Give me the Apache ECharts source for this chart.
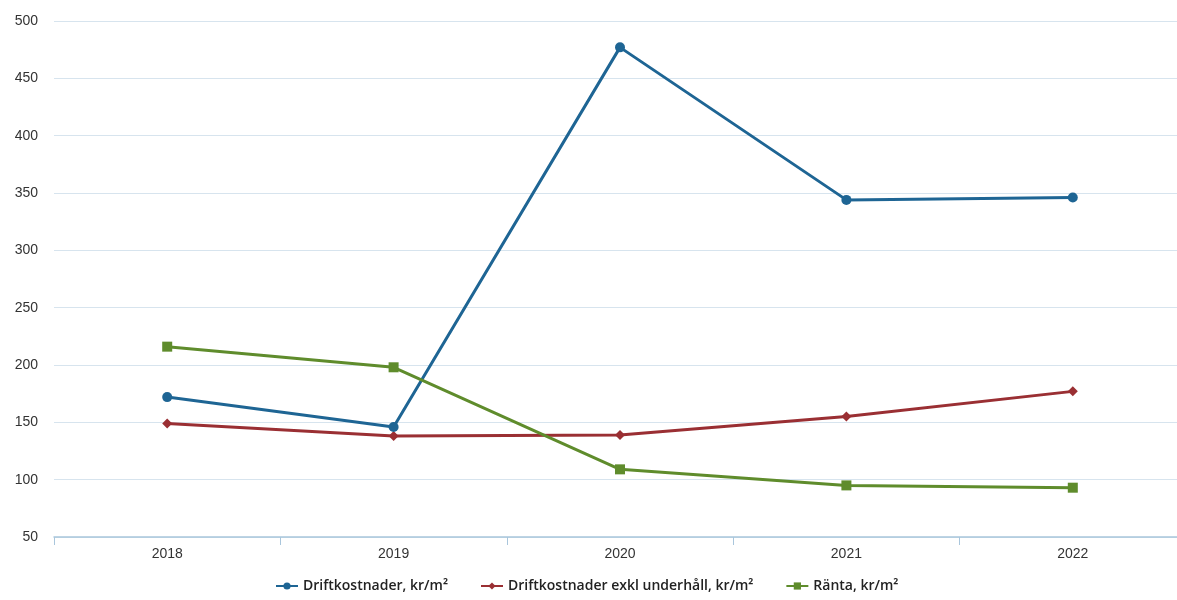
<!DOCTYPE html>
<html>
<head>
<meta charset="UTF-8">
<title>Driftkostnader</title>
<script src="https://cdn.jsdelivr.net/npm/echarts@6/dist/echarts.min.js"></script>
<style>
  html, body { margin: 0; padding: 0; background: #fff; overflow: hidden; }
  /* plot area runs a little past the right edge of the window, as in the original */
  #chart { width: 1186px; height: 600px; }
</style>
</head>
<body>
<div id="chart"></div>
<script>
// data
var years = ['2018', '2019', '2020', '2021', '2022'];
var drift = [172, 146, 477, 344, 346];
var driftExkl = [149, 138, 139, 155, 177];
var ranta = [216, 198, 109, 95, 93];

var chart = echarts.init(document.getElementById('chart'));
chart.setOption({
  backgroundColor: '#fff',
  animation: false,
  grid: { left: 54, right: 0, top: 21, bottom: 63 },
  legend: {
    bottom: 2,
    left: 270,
    itemGap: 32,
    itemWidth: 22,
    itemHeight: 9,
    textStyle: { fontFamily: 'Open Sans', fontSize: 14, fontWeight: 600, color: '#222' },
    data: ['Driftkostnader, kr/m²', 'Driftkostnader exkl underhåll, kr/m²', 'Ränta, kr/m²']
  },
  xAxis: {
    type: 'category',
    data: years,
    boundaryGap: true,
    axisLine: { lineStyle: { color: '#a9c6dc', width: 1.5 } },
    axisTick: { show: true, length: 8, lineStyle: { color: '#a9c6dc' } },
    axisLabel: { color: '#333', fontSize: 14, fontFamily: 'Liberation Sans', margin: 10 }
  },
  yAxis: {
    type: 'value',
    min: 50,
    max: 500,
    interval: 50,
    axisLine: { show: false },
    axisTick: { show: false },
    axisLabel: { color: '#333', fontSize: 14, fontFamily: 'Liberation Sans', margin: 16 },
    splitLine: { lineStyle: { color: '#d7e4ee', width: 1 } }
  },
  series: [
    {
      name: 'Driftkostnader, kr/m²',
      type: 'line',
      data: drift,
      symbol: 'circle',
      symbolSize: 10,
      color: '#1e6594',
      lineStyle: { width: 3 },
      z: 3
    },
    {
      name: 'Driftkostnader exkl underhåll, kr/m²',
      type: 'line',
      data: driftExkl,
      symbol: 'diamond',
      symbolSize: 10,
      color: '#9a2f33',
      lineStyle: { width: 3 },
      z: 2
    },
    {
      name: 'Ränta, kr/m²',
      type: 'line',
      data: ranta,
      symbol: 'rect',
      symbolSize: 10,
      color: '#5f8c2c',
      lineStyle: { width: 3 },
      z: 4
    }
  ]
});
</script>
</body>
</html>
